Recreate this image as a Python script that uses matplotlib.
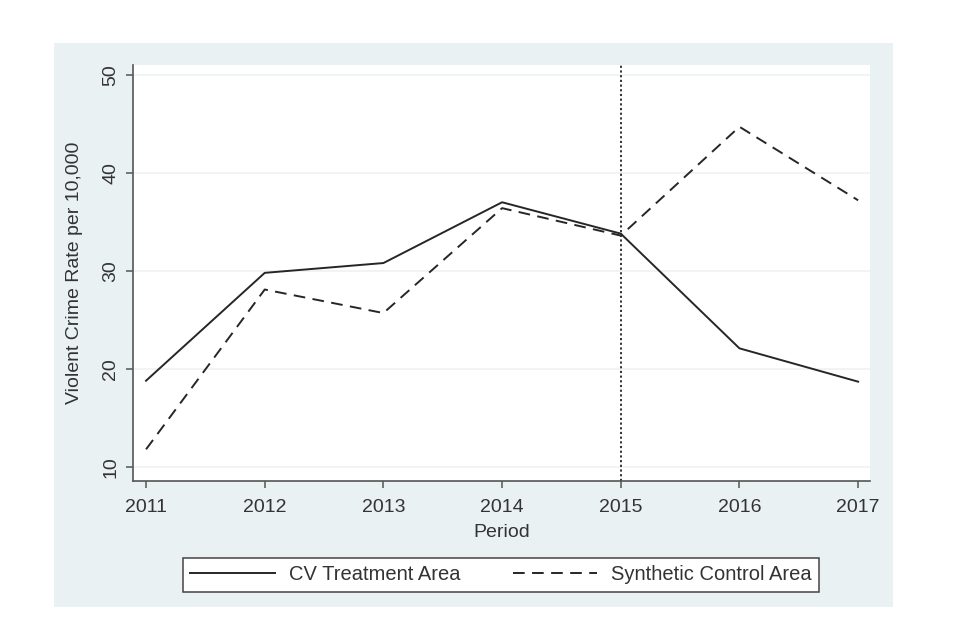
import matplotlib.pyplot as plt
from matplotlib.patches import Rectangle

years = [2011, 2012, 2013, 2014, 2015, 2016, 2017]
treatment = [18.8, 29.8, 30.8, 37.0, 33.8, 22.1, 18.7]
synthetic = [11.8, 28.1, 25.7, 36.4, 33.6, 44.7, 37.2]
yticks = [10, 20, 30, 40, 50]

plt.rcParams['font.family'] = ['Liberation Sans', 'DejaVu Sans']

fig = plt.figure(figsize=(9.6, 6.39), dpi=100)
fig.patch.set_facecolor('white')

# stata style panel behind the plot
fig.patches.append(Rectangle((54 / 960, 1 - 607 / 639), 839 / 960, 564 / 639,
                             transform=fig.transFigure, facecolor='#eaf1f3',
                             edgecolor='none', zorder=-5))

ax = fig.add_axes([133 / 960, 1 - 481 / 639, 737 / 960, 416 / 639])
ax.set_facecolor('white')

for y in yticks:
    ax.axhline(y, color='#eef2f4', lw=1.2, zorder=1)

ax.axvline(2015, color='#222222', lw=1.3, linestyle=(0, (1.2, 1.4)), zorder=2)

ax.plot(years, treatment, color='#262626', lw=1.4, label='CV Treatment Area', zorder=3)
ax.plot(years, synthetic, color='#262626', lw=1.4, linestyle=(0, (6, 3.8)),
        label='Synthetic Control Area', zorder=3)

ax.set_xlim(2010.89, 2017.1)
ax.set_ylim(8.57, 51.0)
ax.set_xticks(years)
ax.set_yticks(yticks)
ax.set_yticklabels([str(v) for v in yticks], rotation=90, va='center')

for s in ['top', 'right']:
    ax.spines[s].set_visible(False)
for s in ['left', 'bottom']:
    ax.spines[s].set_color('#555555')
    ax.spines[s].set_linewidth(1.2)

ax.tick_params(axis='both', colors='#555555', labelcolor='#333333',
               labelsize=14, length=5, width=1.1)
ax.tick_params(axis='y', pad=5)
ax.tick_params(axis='x', pad=8)

ax.set_xlabel('Period', fontsize=14, color='#333333', labelpad=6)
ax.set_ylabel('Violent Crime Rate per 10,000', fontsize=14, color='#333333', labelpad=14)

leg = fig.legend(loc='center', bbox_to_anchor=(501 / 960, 1 - 575 / 639), ncol=2,
                 fontsize=14.5, frameon=True, fancybox=False, framealpha=1,
                 edgecolor='#444444', handlelength=4.2, columnspacing=2.6,
                 borderpad=0.35, handletextpad=0.7, borderaxespad=0)
leg.get_frame().set_linewidth(1.1)
for t in leg.get_texts():
    t.set_color('#333333')

fig.savefig('out.png', dpi=100)
